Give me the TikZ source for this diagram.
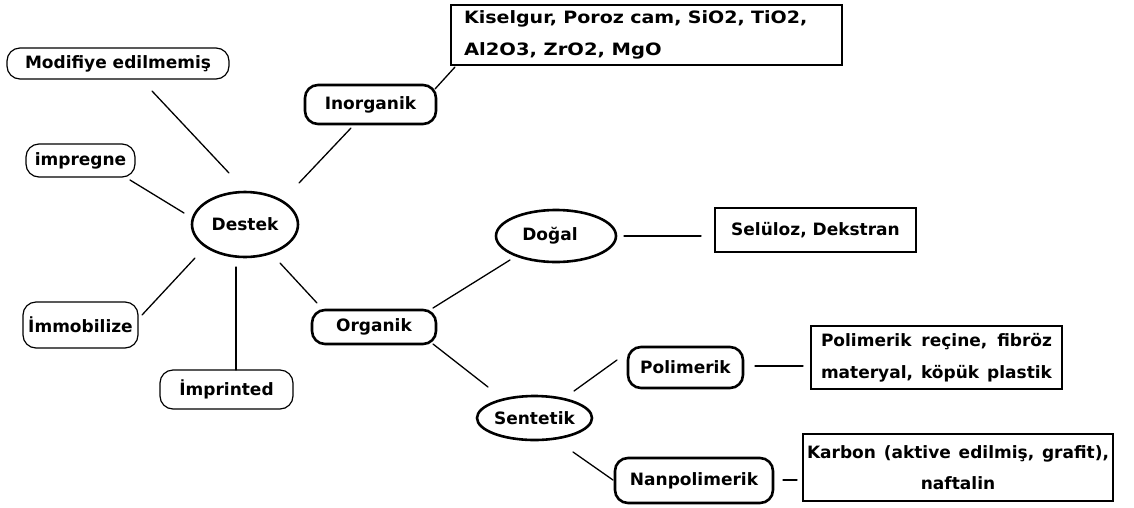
\documentclass[tikz,border=0pt]{standalone}
\usepackage{fontspec}
\usepackage{graphicx}
\setmainfont{DejaVu Sans}
\usetikzlibrary{calc,shapes.geometric}
\newcommand{\spreadline}[2]{\hbox to #1{#2}}
\begin{document}
\begin{tikzpicture}[x=1pt,y=-1pt,
  base/.style={draw=black, inner sep=0pt, text=black,
    font=\fontsize{17}{31.5}\selectfont\bfseries},
  thinpill/.style={base, rectangle, rounded corners=13pt, line width=1.2pt},
  thickpill/.style={base, rectangle, rounded corners=13pt, line width=2.6pt},
  oval/.style={base, ellipse, line width=2.6pt},
  infobox/.style={base, rectangle, line width=2.8pt},
  conn/.style={line width=1.3pt, line cap=round},
]
\useasboundingbox[fill=white] (0,0) rectangle (1134,507);

% nodes
\node[thinpill, minimum width=222, minimum height=31] (mod) at (118,63.5) {Modifiye edilmemiş};
\node[thinpill, minimum width=109, minimum height=33] (imp) at (80.5,160.5) {impregne};
\node[oval, minimum width=106, minimum height=65] (des) at (245,224.5) {\makebox[0pt]{Destek}};
\node[thickpill, minimum width=131, minimum height=39] (inorg) at (370.5,104.5) {Inorganik};
\node[infobox, minimum width=391, minimum height=60, align=left, text width=365] (top) at (646.5,35)
  {\scalebox{1.12}[1]{Kiselgur, Poroz cam, SiO2, TiO2,}\\
   \scalebox{1.15}[1]{Al2O3, ZrO2, MgO}};
\node[thinpill, minimum width=115, minimum height=46] (immo) at (80.5,325) {İmmobilize};
\node[thinpill, minimum width=133, minimum height=39] (impr) at (226.5,389.5) {İmprinted};
\node[thickpill, minimum width=124, minimum height=34] (org) at (374,327) {Organik};
\node[oval, minimum width=120, minimum height=52] (dog) at (556,236) {\makebox[0pt]{\hspace*{-12pt}Doğal}};
\node[infobox, minimum width=201, minimum height=44] (sel) at (815.5,230) {Selüloz, Dekstran};
\node[oval, minimum width=115, minimum height=44] (sen) at (534.5,418) {\makebox[0pt]{Sentetik}};
\node[thickpill, minimum width=115, minimum height=41] (pol) at (685.5,367.5) {Polimerik};
\node[infobox, minimum width=251, minimum height=63, align=left, text width=231] (polbox) at (936.5,357.5)
  {\spreadline{231pt}{Polimerik\hfill reçine,\hfill fibröz}\\
   \spreadline{231pt}{materyal,\hfill köpük\hfill plastik}};
\node[thickpill, minimum width=158, minimum height=45] (nan) at (694,480.5) {Nanpolimerik};
\node[infobox, minimum width=310, minimum height=67, align=center] (karb) at (958,467.5)
  {\spreadline{302pt}{Karbon\hfill (aktive\hfill edilmiş,\hfill grafit),}\\naftalin};

% connectors
\draw[conn] ($(mod)+(34,27.5)$) -- ($(des)+(-16,-51.5)$);
\draw[conn] ($(imp)+(49.5,19.5)$) -- ($(des)+(-61,-11.5)$);
\draw[conn] ($(inorg)+(-19.5,23.5)$) -- ($(des)+(54,-41.5)$);
\draw[conn] ($(inorg)+(64.5,-15.5)$) -- ($(top)+(-191.5,32)$);
\draw[conn] ($(des)+(-50,33.5)$) -- ($(immo)+(61.5,-10)$);
\draw[conn] ($(des)+(-9,42.5)$) -- ($(impr)+(9.5,-19.5)$);
\draw[conn] ($(des)+(35,38.5)$) -- ($(org)+(-57,-24)$);
\draw[conn] ($(org)+(59,-19)$) -- ($(dog)+(-46,24)$);
\draw[conn] ($(org)+(59,17)$) -- ($(sen)+(-46.5,-31)$);
\draw[conn] ($(dog)+(68,0)$) -- ($(sel)+(-114.5,6)$);
\draw[conn] ($(sen)+(39.5,-27)$) -- ($(pol)+(-68.5,-7.5)$);
\draw[conn] ($(pol)+(69.5,-1.5)$) -- ($(polbox)+(-133.5,8.5)$);
\draw[conn] ($(sen)+(38.5,34)$) -- ($(nan)+(-81,-0.5)$);
\draw[conn] ($(nan)+(89,-0.5)$) -- ($(karb)+(-161,12.5)$);
\end{tikzpicture}
\end{document}
